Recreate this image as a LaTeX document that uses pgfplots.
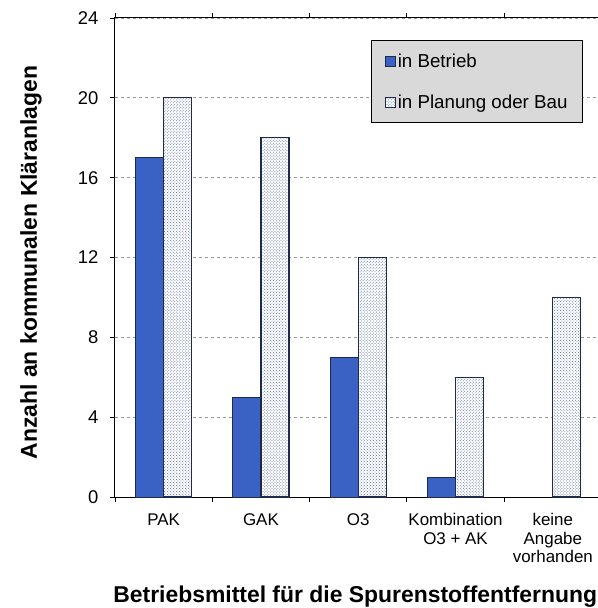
\documentclass[border=0pt]{standalone}
\usepackage{pgfplots}
\pgfplotsset{compat=1.18}
\usepackage{fontspec}
\setmainfont{Liberation Sans}
\usetikzlibrary{patterns}

\definecolor{betrieb}{RGB}{58,98,196}
\definecolor{edge}{RGB}{30,42,72}
\definecolor{dots}{RGB}{85,110,165}
\definecolor{legbg}{RGB}{217,217,217}

\begin{document}
\begin{tikzpicture}
  \begin{axis}[
    scale only axis,
    width=486.5bp,
    height=479bp,
    ybar=0pt,
    bar width=28bp,
    xmin=-0.5, xmax=4.5,
    ymin=0, ymax=24,
    ytick={0,4,...,24},
    xtick={0,1,2,3,4},
    xticklabels={PAK, GAK, O3, {Kombination\\O3 + AK}, {keine\\Angabe\\vorhanden}},
    minor xtick={-0.5,0.5,1.5,2.5,3.5},
    tick align=outside,
    major tick length=5bp,
    minor tick length=5bp,
    xtick style={draw=none},
    minor x tick style={draw=black, line width=0.8bp},
    ytick style={black, line width=0.8bp},
    axis line style={black, line width=1bp},
    ymajorgrids,
    grid style={gray!80, dashed, line width=0.7bp},
    /pgf/number format/assume math mode=true,
    yticklabel style={font=\fontsize{18.5}{20}\selectfont, xshift=-8bp},
    xticklabel style={font=\fontsize{17}{18.5}\selectfont, align=center, yshift=-8bp},
    xlabel={\textbf{Betriebsmittel für die Spurenstoffentfernung}},
    ylabel={\textbf{Anzahl an kommunalen Kläranlagen}},
    xlabel style={font=\fontsize{23}{26}\selectfont, at={(axis description cs:0.5,0)}, anchor=center, yshift=-100bp, xshift=-3bp},
    ylabel style={font=\fontsize{23}{26}\selectfont, at={(axis description cs:0,0.5)}, anchor=center, yshift=84bp, xshift=-5bp},
    legend style={at={(rel axis cs:0.962,0.954)}, anchor=north east,
      fill=legbg, draw=black, line width=1bp,
      font=\fontsize{18.8}{22}\selectfont,
      row sep=22bp, inner xsep=13bp, inner ysep=11bp},
    legend cell align=left,
    legend image code/.code={\draw[#1, line width=1bp] (0bp,-5bp) rectangle (10bp,5bp);},
  ]
  \addplot[fill=betrieb, draw=edge, line width=1bp]
    coordinates {(0,17) (1,5) (2,7) (3,1)};
  \addplot[fill=white, draw=edge, line width=1.2bp,
    postaction={pattern=crosshatch dots, pattern color=dots}]
    coordinates {(0,20) (1,18) (2,12) (3,6) (4,10)};
  \legend{in Betrieb, in Planung oder Bau}
  \coordinate (O) at (rel axis cs:0,0);
  \end{axis}
  \pgfresetboundingbox
  \path (O) ++(-115bp,-111bp) rectangle ++(598bp,608bp);
\end{tikzpicture}
\end{document}
